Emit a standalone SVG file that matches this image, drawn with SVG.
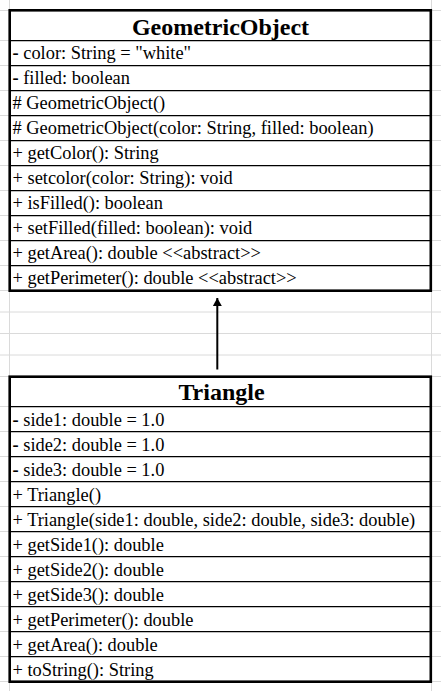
<svg xmlns="http://www.w3.org/2000/svg" width="441" height="691" viewBox="0 0 441 691">
  <style>
    .grid { stroke: #dadada; stroke-width: 1; fill: none; }
    .box { fill: #ffffff; stroke: #000000; stroke-width: 2.6; }
    .sep { stroke: #000000; stroke-width: 1.2; fill: none; }
    .title { font-family: "Liberation Serif", "Times New Roman", serif; font-weight: bold; font-size: 24px; text-anchor: middle; fill: #000000; }
    .row { font-family: "Liberation Serif", "Times New Roman", serif; font-size: 18.4px; fill: #000000; }
    .dash { font-weight: bold; }
    .conn { stroke: #000000; stroke-width: 2; fill: none; }
  </style>
  <defs>
    <marker id="arrow" markerWidth="10" markerHeight="10" refX="8" refY="4.5" orient="auto" markerUnits="userSpaceOnUse">
      <path d="M0,0 L8,4.5 L0,9 Z" fill="#000000"/>
    </marker>
  </defs>
  <rect x="0" y="0" width="441" height="691" fill="#ffffff"/>
  <g id="grid">
    <path class="grid" d="M9.5,0 V691 M431.5,0 V691
      M0,10.5 H441 M0,40.5 H441 M0,65.5 H441 M0,90.5 H441 M0,115.5 H441 M0,140.5 H441
      M0,165.5 H441 M0,190.5 H441 M0,215.5 H441 M0,240.5 H441 M0,265.5 H441 M0,290.5 H441
      M0,312 H441 M0,333.5 H441 M0,355 H441 M0,376.5 H441 M0,406.5 H441 M0,431.5 H441
      M0,456.5 H441 M0,481.5 H441 M0,506.5 H441 M0,531.5 H441 M0,556.5 H441 M0,581.5 H441
      M0,606.5 H441 M0,631.5 H441 M0,656.5 H441 M0,681.5 H441"/>
  </g>
  <g id="GeometricObject">
    <rect class="box" x="9.7" y="10.3" width="421.1" height="280.4"/>
    <path class="sep" d="M9.7,40.6 H430.8 M9.7,65.6 H430.8 M9.7,90.6 H430.8 M9.7,115.6 H430.8 M9.7,140.6 H430.8 M9.7,165.6 H430.8 M9.7,190.6 H430.8 M9.7,215.6 H430.8 M9.7,240.6 H430.8 M9.7,265.6 H430.8"/>
    <text class="title" x="220.5" y="35">GeometricObject</text>
    <text class="row" x="12.5" y="59.3"><tspan class="dash">-</tspan> color: String = "white"</text>
    <text class="row" x="12.5" y="84.3"><tspan class="dash">-</tspan> filled: boolean</text>
    <text class="row" x="12.5" y="109.3"># GeometricObject()</text>
    <text class="row" x="12.5" y="134.3"># GeometricObject(color: String, filled: boolean)</text>
    <text class="row" x="12.5" y="159.3">+ getColor(): String</text>
    <text class="row" x="12.5" y="184.3">+ setcolor(color: String): void</text>
    <text class="row" x="12.5" y="209.3">+ isFilled(): boolean</text>
    <text class="row" x="12.5" y="234.3">+ setFilled(filled: boolean): void</text>
    <text class="row" x="12.5" y="259.3">+ getArea(): double &lt;&lt;abstract&gt;&gt;</text>
    <text class="row" x="12.5" y="284.3">+ getPerimeter(): double &lt;&lt;abstract&gt;&gt;</text>
  </g>
  <g id="Triangle">
    <rect class="box" x="9.7" y="376.7" width="421.1" height="305"/>
    <path class="sep" d="M9.7,406.6 H430.8 M9.7,431.6 H430.8 M9.7,456.6 H430.8 M9.7,481.6 H430.8 M9.7,506.6 H430.8 M9.7,531.6 H430.8 M9.7,556.6 H430.8 M9.7,581.6 H430.8 M9.7,606.6 H430.8 M9.7,631.6 H430.8 M9.7,656.6 H430.8"/>
    <text class="title" x="221.5" y="400">Triangle</text>
    <text class="row" x="12.5" y="425.5"><tspan class="dash">-</tspan> side1: double = 1.0</text>
    <text class="row" x="12.5" y="450.5"><tspan class="dash">-</tspan> side2: double = 1.0</text>
    <text class="row" x="12.5" y="475.5"><tspan class="dash">-</tspan> side3: double = 1.0</text>
    <text class="row" x="12.5" y="500.5">+ Triangle()</text>
    <text class="row" x="12.5" y="525.5">+ Triangle(side1: double, side2: double, side3: double)</text>
    <text class="row" x="12.5" y="550.5">+ getSide1(): double</text>
    <text class="row" x="12.5" y="575.5">+ getSide2(): double</text>
    <text class="row" x="12.5" y="600.5">+ getSide3(): double</text>
    <text class="row" x="12.5" y="625.5">+ getPerimeter(): double</text>
    <text class="row" x="12.5" y="650.5">+ getArea(): double</text>
    <text class="row" x="12.5" y="675.5">+ toString(): String</text>
  </g>
  <g id="connectors">
    <line class="conn" x1="217.3" y1="369.5" x2="217.3" y2="298" marker-end="url(#arrow)"/>
  </g>
</svg>
